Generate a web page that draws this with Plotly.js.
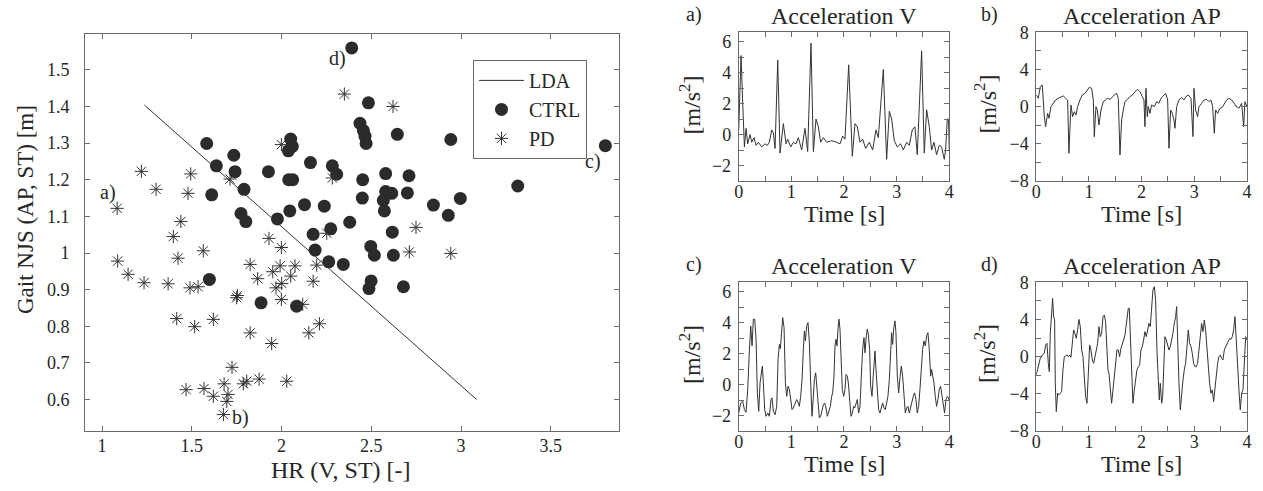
<!DOCTYPE html>
<html>
<head>
<meta charset="utf-8">
<script src="https://cdn.plot.ly/plotly-3.0.1.min.js"></script>
<style>html,body{margin:0;padding:0;background:#fff;}#chart{width:1263px;height:491px;}</style>
</head>
<body>
<div id="chart"></div>
<script>
// ---------- Main scatter data ----------
const ldaX = [1.236, 3.087];
const ldaY = [1.404, 0.600];

const ctrlX = [2.391,2.484,2.437,2.456,2.465,2.471,1.583,2.051,2.060,2.038,1.734,1.637,1.741,1.927,2.161,2.283,2.307,2.452,2.040,2.062,1.611,1.791,1.774,1.801,1.977,2.046,2.128,2.238,2.450,2.380,2.274,2.645,2.943,3.804,2.580,2.710,3.316,2.580,2.614,2.567,2.701,2.573,2.846,2.996,2.929,2.617,2.176,2.187,2.497,2.517,2.263,2.344,1.598,2.499,2.487,1.886,2.084,2.623,2.679];
const ctrlY = [1.560,1.410,1.354,1.334,1.319,1.299,1.299,1.311,1.291,1.279,1.267,1.238,1.222,1.222,1.247,1.238,1.215,1.200,1.200,1.200,1.159,1.174,1.108,1.086,1.093,1.115,1.132,1.128,1.150,1.084,1.066,1.324,1.310,1.293,1.217,1.211,1.183,1.168,1.163,1.144,1.164,1.115,1.131,1.149,1.103,1.057,1.051,1.008,1.018,0.994,0.976,0.969,0.928,0.924,0.903,0.864,0.855,0.994,0.908];

const pdX = [2.350,2.621,1.999,2.283,1.219,1.301,1.494,1.479,1.713,1.084,1.439,2.749,1.397,1.930,2.252,1.564,1.999,1.087,1.423,1.825,1.992,2.075,2.196,1.951,1.145,2.051,1.867,1.234,1.368,1.490,1.535,2.001,1.969,2.176,1.754,1.750,1.999,2.118,1.416,1.516,1.620,1.825,1.945,2.152,2.211,1.724,1.468,1.568,1.620,1.680,1.702,1.695,1.787,1.806,1.875,2.029,1.676,2.712,2.943];
const pdY = [1.434,1.400,1.296,1.205,1.223,1.174,1.216,1.163,1.202,1.122,1.086,1.070,1.045,1.040,1.054,1.006,1.015,0.978,0.986,0.969,0.965,0.965,0.967,0.949,0.942,0.937,0.930,0.919,0.916,0.905,0.908,0.917,0.905,0.923,0.884,0.878,0.873,0.860,0.821,0.799,0.819,0.782,0.753,0.782,0.807,0.688,0.627,0.630,0.609,0.643,0.614,0.595,0.643,0.650,0.656,0.650,0.559,1.003,0.999];

const caseLabels = ['a)','b)','c)','d)'];
const caseX = [1.031, 1.772, 3.733, 2.309];
const caseY = [1.165, 0.552, 1.250, 1.530];

// ---------- Signals ----------
// a) Acceleration V (PD)
const aT = [0,0.025,0.044,0.076,0.108,0.139,0.171,0.215,0.247,0.291,0.329,0.373,0.437,0.5,0.544,0.582,0.627,0.658,0.690,0.741,0.785,0.848,0.899,0.930,0.987,1.038,1.089,1.133,1.196,1.259,1.310,1.373,1.418,1.468,1.513,1.557,1.608,1.671,1.766,1.861,1.924,1.975,2.019,2.089,2.158,2.209,2.253,2.304,2.354,2.411,2.481,2.544,2.608,2.652,2.747,2.810,2.861,2.905,2.956,3.013,3.076,3.127,3.190,3.241,3.297,3.348,3.392,3.475,3.525,3.570,3.620,3.665,3.709,3.759,3.810,3.854,3.905,3.930,3.962,3.987,4.0];
const aV = [0.3,3.0,5.1,2.0,-0.8,0.4,-0.6,0.0,-0.5,-0.2,-0.7,-0.5,-0.8,-0.6,-0.7,-0.5,0.3,0.1,-0.9,4.8,-1.2,0.7,-0.6,-0.3,-0.8,-0.5,-0.6,-0.2,-1.0,0.4,-1.1,5.9,-1.1,1.0,0.5,-0.5,-0.2,-0.5,-0.4,-0.5,-0.6,-0.1,-0.3,4.5,-1.4,0.7,0.5,-0.5,-0.3,-0.9,-0.5,-1.0,0.3,-0.2,4.2,-1.6,1.5,1.0,-0.4,-0.8,-0.6,-1.0,-0.5,-0.7,0.3,0.5,-1.3,5.4,-1.2,1.6,0.5,-1.0,-0.5,-1.3,-0.7,-0.8,-1.6,-1.0,1.0,1.0,-1.0];

// b) Acceleration AP (PD)
const bT = [0,0.038,0.076,0.114,0.152,0.177,0.215,0.241,0.278,0.323,0.367,0.418,0.468,0.513,0.557,0.595,0.620,0.658,0.690,0.722,0.753,0.785,0.829,0.873,0.924,0.968,1.006,1.051,1.082,1.101,1.133,1.158,1.190,1.228,1.272,1.316,1.354,1.399,1.443,1.481,1.525,1.557,1.589,1.620,1.652,1.684,1.734,1.778,1.829,1.873,1.924,1.968,2.013,2.044,2.063,2.082,2.108,2.127,2.158,2.190,2.241,2.285,2.329,2.367,2.411,2.456,2.494,2.519,2.551,2.582,2.614,2.633,2.665,2.709,2.759,2.804,2.842,2.886,2.937,2.975,2.994,3.025,3.063,3.089,3.139,3.190,3.234,3.278,3.316,3.348,3.380,3.405,3.443,3.487,3.532,3.570,3.614,3.658,3.709,3.759,3.791,3.816,3.848,3.899,3.924,3.937,3.962,4.0];
const bV = [1.25,0.9,2.15,2.33,-1.08,-2.15,-0.72,-1.25,0,0.36,0.72,0.9,1.08,1.15,0.9,0.72,-5.02,0.18,-1.08,-0.54,-0.9,0,0.72,1.25,1.43,1.79,2.08,1.97,0.72,-3.23,0,-0.36,-1.97,-0.36,0.54,0.72,0.9,0.79,1.08,1.25,1.43,0.9,-5.2,-1.43,-0.36,0.54,0.79,1.08,1.25,1.61,1.86,1.61,1.08,0.72,-2.15,1.97,-1.08,0,-0.72,0.18,0,0.54,0.36,0.9,1.15,1.43,0.72,-4.48,-0.36,-0.72,-1.43,-2.33,0,0.72,1.0,0.72,1.08,1.25,0.9,-3.23,1.97,-0.36,-1.08,0,0.36,0.72,0.79,0.54,0.72,0,-2.87,-0.36,-0.72,-0.18,-0.07,0.29,0.72,0.9,0.72,0.36,0,0,-0.18,0.36,-1.08,-2.15,0.54,0];

// c) Acceleration V (CTRL)
const cT = [0,0.038,0.076,0.108,0.139,0.171,0.203,0.228,0.253,0.278,0.304,0.329,0.354,0.380,0.405,0.424,0.449,0.468,0.494,0.519,0.551,0.582,0.614,0.633,0.658,0.690,0.722,0.747,0.772,0.791,0.816,0.835,0.861,0.886,0.911,0.937,0.962,0.987,1.013,1.038,1.070,1.101,1.133,1.152,1.177,1.203,1.228,1.247,1.266,1.291,1.316,1.342,1.367,1.392,1.418,1.437,1.462,1.481,1.506,1.532,1.557,1.582,1.608,1.633,1.658,1.684,1.715,1.741,1.766,1.785,1.810,1.829,1.848,1.867,1.886,1.905,1.924,1.943,1.968,1.994,2.019,2.038,2.063,2.082,2.108,2.133,2.158,2.184,2.203,2.228,2.253,2.278,2.304,2.329,2.354,2.380,2.399,2.424,2.443,2.462,2.487,2.506,2.532,2.551,2.570,2.589,2.608,2.633,2.658,2.684,2.709,2.734,2.759,2.785,2.810,2.835,2.861,2.886,2.905,2.924,2.943,2.968,2.987,3.013,3.038,3.063,3.089,3.114,3.139,3.165,3.190,3.215,3.241,3.266,3.291,3.316,3.342,3.367,3.392,3.418,3.443,3.468,3.494,3.519,3.544,3.570,3.595,3.620,3.646,3.665,3.684,3.709,3.734,3.759,3.785,3.810,3.835,3.861,3.886,3.911,3.937,3.962,3.987,4.0];
const cV = [-1.84,-1.19,-1.08,-1.62,-1.79,-0.32,2.27,3.78,2.49,4.22,4.22,2.92,-0.54,-1.73,0.11,0.76,1.19,0.11,-1.62,-2.05,-1.84,-2.05,-0.97,-0.86,-1.73,-1.95,-1.41,1.62,2.59,2.31,3.78,4.32,3.68,0.11,-0.76,-0.11,-0.32,-0.97,-1.62,-1.51,-1.19,-0.97,-1.19,-1.41,-0.76,0.32,2.27,3.46,2.81,3.78,4.0,2.70,0.11,-2.05,-0.76,0.32,0.76,-0.11,-1.19,-2.16,-2.05,-1.62,-1.30,-1.19,-1.51,-2.05,-1.62,-1.41,-0.76,-0.54,0.54,2.49,2.92,2.49,3.57,4.22,3.57,1.62,-0.32,-0.76,-0.32,0.65,0.54,0.11,-1.19,-2.05,-1.84,-1.41,-1.51,-1.30,-0.97,-1.84,-1.41,0.54,2.27,3.03,2.05,3.14,3.57,3.24,2.27,-0.11,-0.76,0.32,1.19,2.16,0.97,-0.54,-1.62,-1.84,-1.41,-1.19,-1.51,-1.62,-1.19,-0.76,0.32,2.27,3.35,2.59,3.57,4.11,3.35,0.54,-0.54,0.43,1.19,0.54,-0.97,-1.84,-1.51,-1.41,-1.84,-1.41,-0.97,-0.76,-0.54,-0.97,-1.84,-1.41,-0.32,0.97,2.27,2.81,2.49,3.14,3.35,2.27,0.54,0.97,0.65,0.11,-0.76,-1.41,-0.97,-0.32,-0.11,-0.76,-1.41,-1.84,-0.97,-0.76,-0.86,-1.08];

// d) Acceleration AP (CTRL)
const dT = [0,0.038,0.076,0.114,0.152,0.177,0.203,0.228,0.247,0.266,0.291,0.310,0.329,0.348,0.361,0.380,0.405,0.430,0.456,0.481,0.506,0.532,0.557,0.582,0.608,0.633,0.658,0.684,0.709,0.734,0.759,0.785,0.810,0.835,0.861,0.886,0.911,0.937,0.962,0.987,1.013,1.038,1.063,1.089,1.114,1.139,1.165,1.190,1.215,1.241,1.266,1.291,1.316,1.342,1.361,1.380,1.405,1.430,1.456,1.481,1.506,1.532,1.557,1.582,1.608,1.633,1.658,1.684,1.709,1.722,1.747,1.766,1.791,1.810,1.835,1.861,1.886,1.911,1.937,1.962,1.987,2.013,2.038,2.063,2.089,2.114,2.139,2.165,2.190,2.215,2.241,2.266,2.291,2.316,2.335,2.354,2.380,2.399,2.418,2.443,2.468,2.494,2.519,2.544,2.570,2.595,2.620,2.646,2.665,2.684,2.709,2.734,2.759,2.785,2.810,2.835,2.861,2.886,2.911,2.937,2.962,2.987,3.013,3.038,3.063,3.089,3.114,3.139,3.165,3.190,3.215,3.241,3.266,3.291,3.316,3.342,3.367,3.392,3.418,3.443,3.468,3.494,3.519,3.544,3.570,3.595,3.620,3.646,3.671,3.696,3.722,3.747,3.772,3.797,3.823,3.848,3.873,3.899,3.924,3.949,3.975,4.0];
const dV = [-1.97,-0.90,-0.18,0.18,0.36,1.25,1.43,-0.72,-1.61,2.51,5.56,6.27,4.30,3.94,-2.87,-5.91,-3.94,-4.12,-3.94,-3.76,-1.43,0,0.07,0.18,0,0.18,-0.07,1.79,2.87,2.51,1.97,2.87,4.01,3.23,0.72,0,-2.51,-4.30,-5.02,-2.15,1.25,0.72,-0.36,-0.72,0,1.08,1.43,3.23,2.15,2.51,4.30,4.48,3.76,0.72,-1.43,-1.79,-3.58,-5.02,-3.58,-2.15,-0.72,0.72,0.72,0,0.90,1.25,1.79,2.33,3.41,3.94,5.20,5.20,1.43,-2.51,-5.02,-3.58,-2.15,-1.43,-1.08,-0.90,0.72,1.08,1.79,2.69,2.15,2.87,3.58,3.23,5.38,7.17,7.53,6.09,0.72,-2.87,-4.66,-2.87,-5.02,-4.30,-1.08,2.15,1.79,1.25,0.72,1.08,1.79,2.51,3.58,4.30,5.38,0.72,-2.87,-5.73,-3.58,-2.51,-1.43,-0.72,1.08,2.87,1.43,1.08,0.36,-0.72,-1.08,-1.08,-0.72,0.72,2.51,3.58,2.69,3.94,2.87,0.72,-0.36,-2.87,-3.94,-3.58,-4.84,-3.23,-1.79,-0.72,0,0.18,-0.18,-0.36,0.72,1.08,1.43,1.61,1.97,1.86,2.15,2.87,4.30,1.79,-1.43,-3.58,-5.73,-3.94,-3.58,-0.36,2.15,1.79];

const panelLabels = ['a)','b)','c)','d)'];
const panelTitles = ['Acceleration V','Acceleration AP','Acceleration V','Acceleration AP'];

// ---------- Styling ----------
const FONT = 'Liberation Serif, Times New Roman, serif';
const TXT = '#262626';
const INK = '#333333';
const FRAME = '#6a6a6a';

const traces = [
  {x: ldaX, y: ldaY, mode: 'lines', name: 'LDA', line: {color: INK, width: 1}, xaxis: 'x', yaxis: 'y'},
  {x: ctrlX, y: ctrlY, mode: 'markers', name: 'CTRL', marker: {symbol: 'circle', size: 13, color: '#2b2b2b'}, xaxis: 'x', yaxis: 'y'},
  {x: pdX, y: pdY, mode: 'markers', name: 'PD', marker: {symbol: 'asterisk-open', size: 11, color: INK, line: {color: INK, width: 1}}, xaxis: 'x', yaxis: 'y'},
  {x: aT, y: aV, mode: 'lines', line: {color: INK, width: 1}, showlegend: false, xaxis: 'x2', yaxis: 'y2'},
  {x: bT, y: bV, mode: 'lines', line: {color: INK, width: 1}, showlegend: false, xaxis: 'x3', yaxis: 'y3'},
  {x: cT, y: cV, mode: 'lines', line: {color: INK, width: 1}, showlegend: false, xaxis: 'x4', yaxis: 'y4'},
  {x: dT, y: dV, mode: 'lines', line: {color: INK, width: 1}, showlegend: false, xaxis: 'x5', yaxis: 'y5'}
];

function baseAxis(extra) {
  return Object.assign({
    showline: true, linecolor: FRAME, linewidth: 1, mirror: 'ticks',
    ticks: 'inside', ticklen: 5, tickcolor: FRAME, tickwidth: 1,
    showgrid: false, zeroline: false,
    tickfont: {family: FONT, size: 18, color: TXT},
    fixedrange: true
  }, extra);
}

const topY = [0.6314, 0.9342], botY = [0.1222, 0.4251];
const leftX = [0.5849, 0.7516], rightX = [0.8205, 0.9873];

const timeAxis = (dom, anchor) => baseAxis({domain: dom, anchor: anchor, range: [0, 4], tickmode: 'linear', tick0: 0, dtick: 1,
  ticklabelstandoff: -6,
  minor: {dtick: 0.5, ticks: 'inside', ticklen: 5, tickcolor: FRAME, showgrid: false}});
const vAxis = (dom, anchor) => baseAxis({domain: dom, anchor: anchor, range: [-3, 6.6], tickmode: 'linear', tick0: 0, dtick: 2,
  ticklabelstandoff: 3,
  minor: {dtick: 1, ticks: 'inside', ticklen: 5, tickcolor: FRAME, showgrid: false}});
const apAxis = (dom, anchor) => baseAxis({domain: dom, anchor: anchor, range: [-8, 8], tickmode: 'linear', tick0: 0, dtick: 4,
  ticklabelstandoff: 3,
  minor: {dtick: 2, ticks: 'inside', ticklen: 5, tickcolor: FRAME, showgrid: false}});

function note(x, y, text, size, ref, angle) {
  const a = {x: x, y: y, xref: ref ? 'x' : 'paper', yref: ref ? 'y' : 'paper', text: text, showarrow: false,
    xanchor: 'center', yanchor: 'middle', font: {family: FONT, size: size, color: TXT}};
  if (angle) a.textangle = angle;
  return a;
}

const annotations = [];
caseLabels.forEach((t, i) => annotations.push(note(caseX[i], caseY[i], t, 20, true)));
annotations.push(note(0.270, 0.0430, 'HR (V, ST) [-]', 24));
annotations.push(note(0.0198, 0.5723, 'Gait NJS (AP, ST) [m]', 23, false, -90));
const pX = [0.6683, 0.9039, 0.6683, 0.9039];
const titleY = [0.9674, 0.9674, 0.4582, 0.4582];
const timeY = [0.5640, 0.5640, 0.0550, 0.0550];
const unitX = [0.5463, 0.7799, 0.5463, 0.7799];
const unitY = [0.7870, 0.7870, 0.2790, 0.2790];
const labX = [0.5495, 0.7831, 0.5495, 0.7831];
const labY = [0.9705, 0.9705, 0.4613, 0.4613];
for (let i = 0; i < 4; i++) {
  annotations.push(note(pX[i], titleY[i], panelTitles[i], 24));
  annotations.push(note(pX[i], timeY[i], 'Time [s]', 24));
  annotations.push(note(unitX[i], unitY[i], '[m/s<sup>2</sup>]', 24, false, -90));
  annotations.push(note(labX[i], labY[i], panelLabels[i], 20));
}

const layout = {
  width: 1263, height: 491,
  margin: {l: 0, r: 0, t: 0, b: 0, autoexpand: false},
  paper_bgcolor: '#ffffff', plot_bgcolor: '#ffffff',
  font: {family: FONT, color: TXT},
  showlegend: true,
  legend: {x: 0.3745, y: 0.878, xanchor: 'left', yanchor: 'top', bgcolor: '#ffffff', bordercolor: FRAME, borderwidth: 1,
    font: {family: FONT, size: 20, color: TXT}, tracegroupgap: 0, itemwidth: 45},
  xaxis: baseAxis({domain: [0.0673, 0.4901], anchor: 'y', range: [0.905, 3.88], tickmode: 'linear', tick0: 0, dtick: 0.5, ticklabelstandoff: -1}),
  yaxis: baseAxis({domain: [0.1228, 0.9308], anchor: 'x', range: [0.515, 1.598], tickmode: 'linear', tick0: 0, dtick: 0.1, ticklabelstandoff: 11}),
  xaxis2: timeAxis(leftX, 'y2'), yaxis2: vAxis(topY, 'x2'),
  xaxis3: timeAxis(rightX, 'y3'), yaxis3: apAxis(topY, 'x3'),
  xaxis4: timeAxis(leftX, 'y4'), yaxis4: vAxis(botY, 'x4'),
  xaxis5: timeAxis(rightX, 'y5'), yaxis5: apAxis(botY, 'x5'),
  annotations: annotations
};

Plotly.newPlot('chart', traces, layout, {displayModeBar: false, staticPlot: true});
</script>
</body>
</html>
